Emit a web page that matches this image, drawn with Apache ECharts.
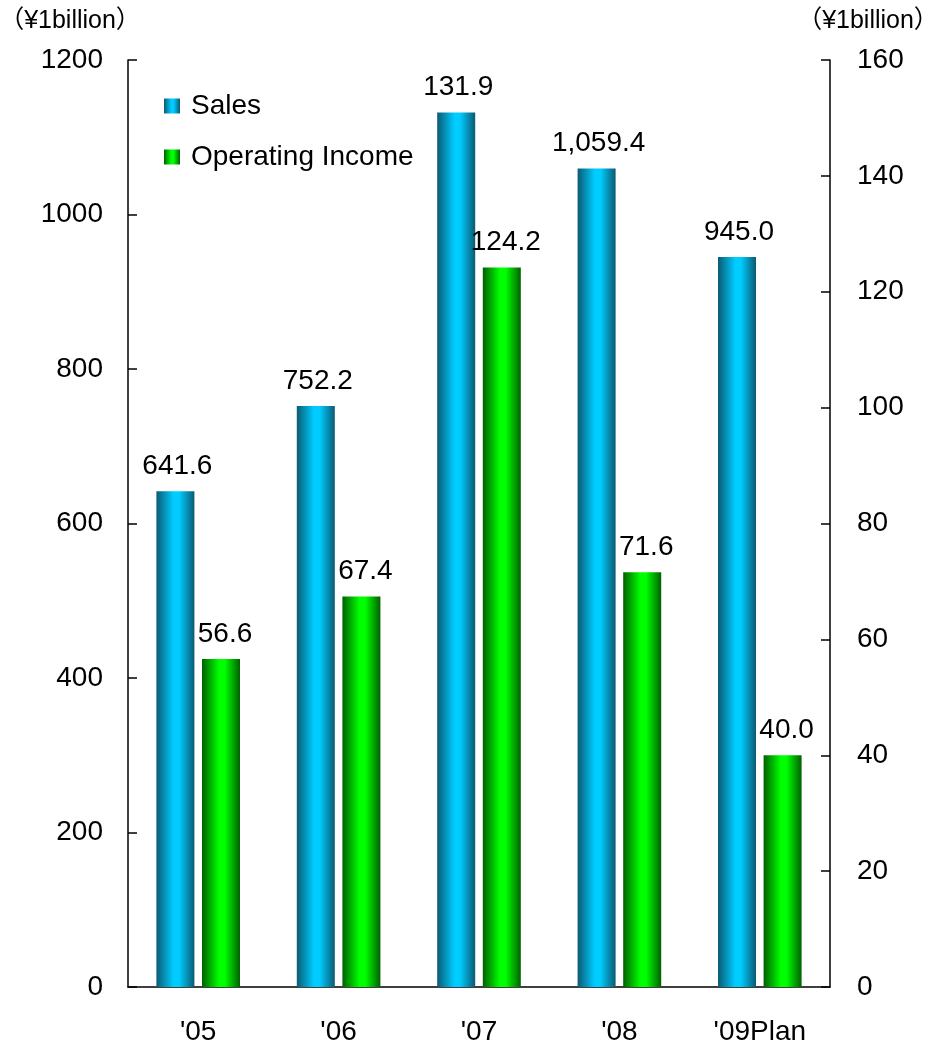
<!DOCTYPE html>
<html>
<head>
<meta charset="utf-8">
<script src="https://cdn.jsdelivr.net/npm/echarts@6/dist/echarts.min.js"></script>
<style>
html, body { margin: 0; padding: 0; background: #fff; }
#main { width: 930px; height: 1043px; }
</style>
</head>
<body>
<div id="main"></div>
<script>
var years = ["'05", "'06", "'07", "'08", "'09Plan"];
var sales = [641.6, 752.2, 1131.9, 1059.4, 945.0];
var salesLabels = ['641.6', '752.2', '131.9', '1,059.4', '945.0'];
var income = [56.6, 67.4, 124.2, 71.6, 40.0];
var incomeLabels = ['56.6', '67.4', '124.2', '71.6', '40.0'];

var font = '"Liberation Sans", Arial, "Noto Sans CJK JP", sans-serif';

var chart = echarts.init(document.getElementById('main'));

// 柱子渐变色
function grad(edge, mid) {
    return new echarts.graphic.LinearGradient(0, 0, 1, 0, [
        { offset: 0, color: edge },
        { offset: 0.45, color: mid },
        { offset: 0.6, color: mid },
        { offset: 1, color: edge }
    ]);
}

function plain(v) { return String(v); }

var option = {
    animation: false,
    textStyle: { fontFamily: font, color: '#000' },
    grid: { left: 128, right: 100, top: 60, bottom: 56, containLabel: false, outerBoundsMode: 'none' },
    legend: {
        orient: 'vertical',
        left: 159,
        top: 87,
        icon: 'rect',
        itemWidth: 16,
        itemHeight: 15,
        itemGap: 23,
        textStyle: { fontSize: 28, color: '#000', fontFamily: font, padding: [0, 0, 0, 6] },
        data: ['Sales', 'Operating Income']
    },
    xAxis: {
        type: 'category',
        data: years,
        axisLine: { lineStyle: { color: '#000', width: 1.5 } },
        axisTick: { inside: true, length: 8, lineStyle: { color: '#000', width: 1.5 } },
        axisLabel: { fontSize: 28, color: '#000', margin: 31, fontFamily: font }
    },
    yAxis: [{
        type: 'value',
        min: 0, max: 1200, interval: 200,
        name: '（¥1billion）',
        nameLocation: 'end',
        nameGap: 26,
        nameTextStyle: { fontSize: 25, color: '#000', align: 'center', padding: [0, 116, 0, 0], fontFamily: font },
        axisLine: { show: true, lineStyle: { color: '#000', width: 1.5 } },
        axisTick: { show: true, inside: true, length: 9, lineStyle: { color: '#000', width: 1.5 } },
        axisLabel: { fontSize: 28, color: '#000', margin: 25, fontFamily: font, formatter: plain },
        splitLine: { show: false }
    }, {
        type: 'value',
        min: 0, max: 160, interval: 20,
        name: '（¥1billion）',
        nameLocation: 'end',
        nameGap: 26,
        nameTextStyle: { fontSize: 25, color: '#000', align: 'center', padding: [0, 0, 0, 76], fontFamily: font },
        axisLine: { show: true, lineStyle: { color: '#000', width: 1.5 } },
        axisTick: { show: true, inside: true, length: 9, lineStyle: { color: '#000', width: 1.5 } },
        axisLabel: { fontSize: 28, color: '#000', margin: 27, fontFamily: font, formatter: plain },
        splitLine: { show: false }
    }],
    series: [{
        name: 'Sales',
        type: 'bar',
        yAxisIndex: 0,
        barWidth: 38,
        barGap: '20%',
        data: sales,
        itemStyle: { color: grad('#0b5a73', '#00ccff') },
        label: {
            show: true,
            position: 'top',
            distance: 11,
            offset: [2, 0],
            fontSize: 28,
            color: '#000',
            fontFamily: font,
            formatter: function (p) { return salesLabels[p.dataIndex]; }
        }
    }, {
        name: 'Operating Income',
        type: 'bar',
        yAxisIndex: 1,
        barWidth: 38,
        data: income,
        itemStyle: { color: grad('#006000', '#00ff00') },
        label: {
            show: true,
            position: 'top',
            distance: 11,
            offset: [4, 0],
            fontSize: 28,
            color: '#000',
            fontFamily: font,
            formatter: function (p) { return incomeLabels[p.dataIndex]; }
        }
    }]
};

chart.setOption(option);
</script>
</body>
</html>
